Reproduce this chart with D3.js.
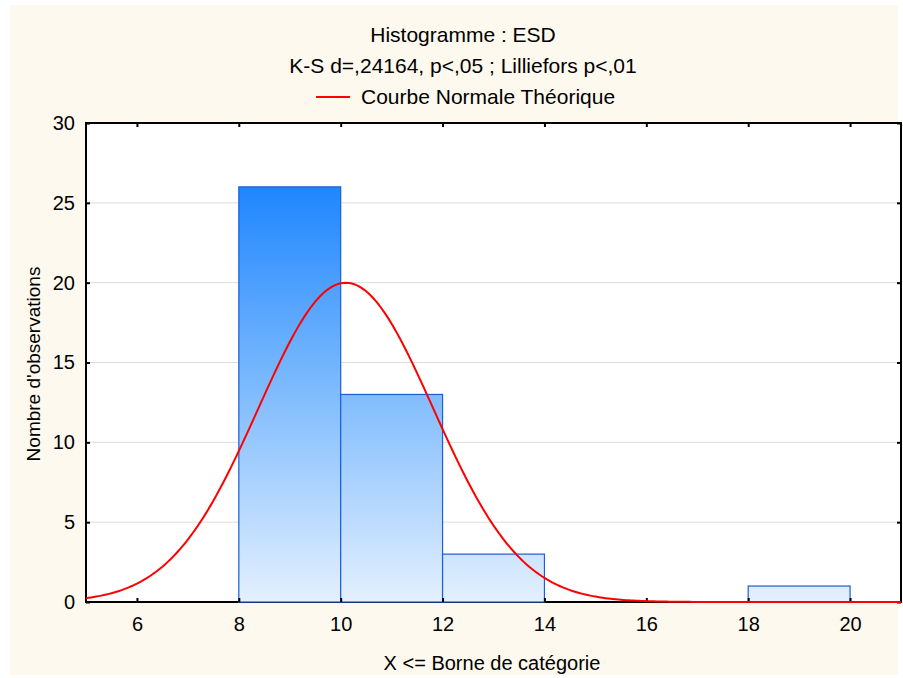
<!DOCTYPE html>
<html>
<head>
<meta charset="utf-8">
<script src="https://cdn.jsdelivr.net/npm/d3@7"></script>
<style>
  html, body { margin: 0; padding: 0; background: #ffffff; }
  svg { display: block; font-family: "Liberation Sans", Arial, sans-serif; }
</style>
</head>
<body>
<svg id="chart" width="903" height="678"></svg>
<script>
// Histogram bins (upper bound "X <=") and their counts
const binStarts = [6, 8, 10, 12, 14, 16, 18];
const binEnds   = [8, 10, 12, 14, 16, 18, 20];
const counts    = [0, 26, 13, 3, 0, 0, 1];

// Axis ticks
const xTicks = [6, 8, 10, 12, 14, 16, 18, 20];
const yTicks = [0, 5, 10, 15, 20, 25, 30];

// Parameters of the theoretical normal curve
const nObs = 43;
const binWidth = 2;
const meanESD = 10.1;
const sdESD = 1.716;

const titleText = "Histogramme : ESD";
const subtitleText = "K-S d=,24164, p<,05 ; Lilliefors p<,01";
const legendText = "Courbe Normale Théorique";
const xLabel = "X <= Borne de catégorie";
const yLabel = "Nombre d'observations";

const svg = d3.select("#chart");

// Cream page background
svg.append("rect")
  .attr("x", 10).attr("y", 5).attr("width", 888).attr("height", 670)
  .attr("fill", "#fdf9ef");

const plot = { left: 86, right: 901, top: 123, bottom: 602 };

const x = d3.scaleLinear().domain([5, 21]).range([plot.left, plot.right]);
const y = d3.scaleLinear().domain([0, 30]).range([plot.bottom, plot.top]);

// White plotting area
svg.append("rect")
  .attr("x", plot.left).attr("y", plot.top)
  .attr("width", plot.right - plot.left).attr("height", plot.bottom - plot.top)
  .attr("fill", "#ffffff");

// Horizontal grid lines
svg.append("g")
  .selectAll("line")
  .data(yTicks.filter(t => t > 0 && t < 30))
  .join("line")
  .attr("x1", plot.left).attr("x2", plot.right)
  .attr("y1", d => y(d)).attr("y2", d => y(d))
  .attr("stroke", "#dcdcdc").attr("stroke-width", 1);

// Vertical gradient for the bars, tied to the value scale
const defs = svg.append("defs");
const grad = defs.append("linearGradient")
  .attr("id", "barFill")
  .attr("gradientUnits", "userSpaceOnUse")
  .attr("x1", 0).attr("x2", 0)
  .attr("y1", y(26)).attr("y2", y(0));
grad.append("stop").attr("offset", "0%").attr("stop-color", "#1f86fe");
grad.append("stop").attr("offset", "50%").attr("stop-color", "#80bcfd");
grad.append("stop").attr("offset", "100%").attr("stop-color", "#e4f0fe");

// Plot frame
svg.append("rect")
  .attr("x", plot.left).attr("y", plot.top)
  .attr("width", plot.right - plot.left).attr("height", plot.bottom - plot.top)
  .attr("fill", "none").attr("stroke", "#000").attr("stroke-width", 2);

// Bars
const bins = counts.map((c, i) => ({ x0: binStarts[i], x1: binEnds[i], n: c }));
svg.append("g")
  .selectAll("rect")
  .data(bins)
  .join("rect")
  .attr("x", d => x(d.x0))
  .attr("y", d => y(d.n))
  .attr("width", d => x(d.x1) - x(d.x0))
  .attr("height", d => y(0) - y(d.n))
  .attr("fill", "url(#barFill)")
  .attr("stroke", d => d.n > 0 ? "#1a5fd4" : "#1b2f6e")
  .attr("stroke-width", 1.2);

// Axes with inward ticks
const axBottom = d3.axisBottom(x).tickValues(xTicks).tickSize(-4).tickPadding(15).tickFormat(d3.format("d"));
const axTop = d3.axisTop(x).tickValues(xTicks).tickSize(-4).tickFormat("");
const axLeft = d3.axisLeft(y).tickValues(yTicks).tickSize(-4).tickPadding(11).tickFormat(d3.format("d"));
const axRight = d3.axisRight(y).tickValues(yTicks).tickSize(-4).tickFormat("");

function styleAxis(g) {
  g.select(".domain").remove();
  g.selectAll(".tick line").attr("stroke", "#000").attr("stroke-width", 2);
  g.selectAll(".tick text").attr("fill", "#000").style("font-size", "20px")
    .style("font-family", "'Liberation Sans', Arial, sans-serif");
}
svg.append("g").attr("transform", `translate(0,${plot.bottom})`).call(axBottom).call(styleAxis);
svg.append("g").attr("transform", `translate(0,${plot.top})`).call(axTop).call(styleAxis);
svg.append("g").attr("transform", `translate(${plot.left},0)`).call(axLeft).call(styleAxis);
svg.append("g").attr("transform", `translate(${plot.right},0)`).call(axRight).call(styleAxis);

// Theoretical normal curve scaled to counts per bin
const pdfScale = nObs * binWidth / (sdESD * Math.sqrt(2 * Math.PI));
const curvePts = d3.range(5, 21.001, 0.05).map(v => [v, pdfScale * Math.exp(-0.5 * Math.pow((v - meanESD) / sdESD, 2))]);
svg.append("path")
  .datum(curvePts)
  .attr("d", d3.line().x(d => x(d[0])).y(d => y(d[1])).curve(d3.curveLinear))
  .attr("fill", "none").attr("stroke", "#ff0000").attr("stroke-width", 2);

// Titles and legend
svg.append("text").attr("x", 463).attr("y", 42).attr("text-anchor", "middle")
  .style("font-size", "21px").text(titleText);
svg.append("text").attr("x", 463).attr("y", 73).attr("text-anchor", "middle")
  .style("font-size", "21px").text(subtitleText);
svg.append("line").attr("x1", 316).attr("x2", 350).attr("y1", 97).attr("y2", 97)
  .attr("stroke", "#ff0000").attr("stroke-width", 2);
svg.append("text").attr("x", 361).attr("y", 104)
  .style("font-size", "21px").text(legendText);

// Axis titles
svg.append("text").attr("x", 492).attr("y", 670).attr("text-anchor", "middle")
  .style("font-size", "20px").text(xLabel);
svg.append("text").attr("transform", `translate(40,364) rotate(-90)`).attr("text-anchor", "middle")
  .style("font-size", "19px").text(yLabel);
</script>
</body>
</html>
